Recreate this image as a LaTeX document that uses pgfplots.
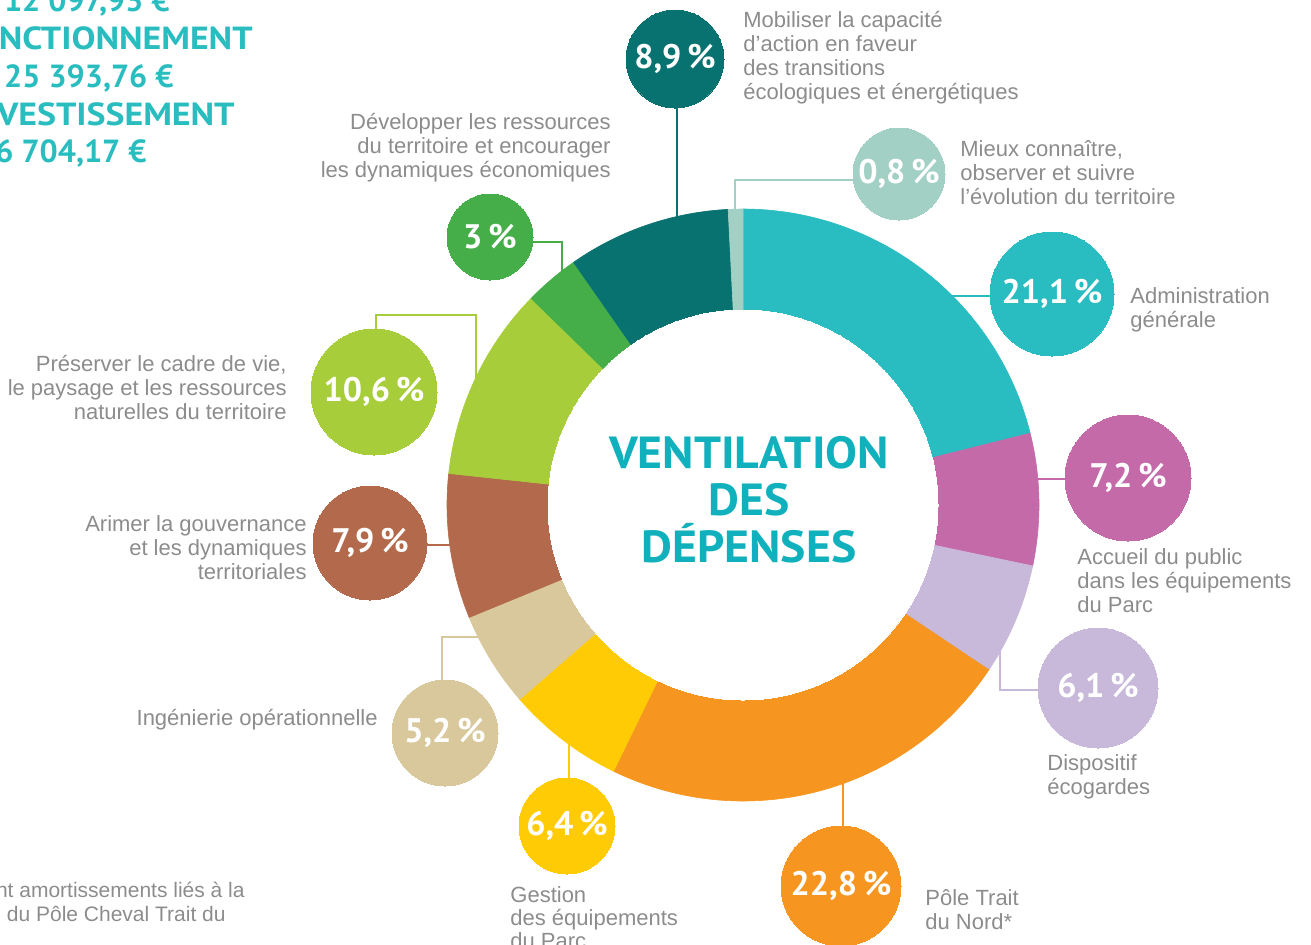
\documentclass[border=0pt]{standalone}
\usepackage{pgfplots}
\pgfplotsset{compat=1.18}
\usepackage{fontspec}
\setmainfont{Liberation Sans}
\newfontfamily\dinfont{PT Sans}
\newfontfamily\dinwide[FakeStretch=1.12]{PT Sans}
\newfontfamily\dintitle[FakeStretch=1.06]{PT Sans}

\definecolor{cAdm}{HTML}{29BDC1}
\definecolor{cAcc}{HTML}{C56AA9}
\definecolor{cEco}{HTML}{C8B8DA}
\definecolor{cPole}{HTML}{F6951F}
\definecolor{cGest}{HTML}{FFCB05}
\definecolor{cIng}{HTML}{D9C89B}
\definecolor{cGouv}{HTML}{B3694B}
\definecolor{cPres}{HTML}{A8CD3A}
\definecolor{cDev}{HTML}{45AE49}
\definecolor{cMob}{HTML}{07726F}
\definecolor{cMieux}{HTML}{A3D0C5}
\definecolor{cTitle}{HTML}{10B1BD}
\definecolor{cTop}{HTML}{2ABDBF}
\definecolor{cGray}{HTML}{8C8C8C}

\newcommand{\labfont}{\fontsize{11}{12}\selectfont}
\newcommand{\bubfont}{\dinfont\bfseries\fontsize{17}{17}\selectfont}
\newcommand{\topfont}{\dinwide\bfseries\fontsize{16}{18}\selectfont}
\newcommand{\topnum}{\dinfont\bfseries\fontsize{16}{18}\selectfont}
\newcommand{\pc}{\hspace{0.17em}\%}

% #1 cumulative start (%), #2 cumulative end (%), #3 colour
\newcommand{\sector}[3]{%
  \addplot[fill=#3, draw=#3, line width=0.3pt, domain={90-3.6*#2}:{90-3.6*#1}, samples=90, variable=\t]
    ({743+296*cos(\t)},{505-296*sin(\t)}) -- (axis cs:743,505) -- cycle;}
% #1 x, #2 y, #3 radius (pt), #4 colour
\newcommand{\bubble}[4]{%
  \addplot[only marks, mark=*, mark size=#3pt, color=#4, mark options={line width=0pt}] coordinates {(#1,#2)};}

\begin{document}
\begin{tikzpicture}
\begin{axis}[width=655.5pt, height=472pt, scale only axis,
  xmin=0, xmax=1311, ymin=0, ymax=944, y dir=reverse,
  hide axis, clip=false]

% connector lines
\addplot[cMob, line width=1.4pt] coordinates {(677,60) (677,260)};
\addplot[cMieux, line width=1.4pt] coordinates {(899,180) (735,180) (735,240)};
\addplot[cAdm, line width=1.4pt] coordinates {(1052,296) (940,296)};
\addplot[cAcc, line width=1.4pt] coordinates {(1128,479) (1000,479)};
\addplot[cEco, line width=1.4pt] coordinates {(1098,690) (1000,690) (1000,620)};
\addplot[cPole, line width=1.4pt] coordinates {(843,886) (843,760)};
\addplot[cGest, line width=1.4pt] coordinates {(569,826) (569,700)};
\addplot[cIng, line width=1.4pt] coordinates {(442,733) (442,637) (520,637)};
\addplot[cGouv, line width=1.4pt] coordinates {(370,545) (500,545)};
\addplot[cPres, line width=1.4pt] coordinates {(376,392) (376,315) (476,315) (476,420)};
\addplot[cDev, line width=1.4pt] coordinates {(490,242) (562,242) (562,300)};

% donut: cumulative shares, clockwise from the top
\sector{0}{21.1}{cAdm}
\sector{21.1}{28.3}{cAcc}
\sector{28.3}{34.4}{cEco}
\sector{34.4}{57.2}{cPole}
\sector{57.2}{63.6}{cGest}
\sector{63.6}{68.8}{cIng}
\sector{68.8}{76.7}{cGouv}
\sector{76.7}{87.3}{cPres}
\sector{87.3}{90.3}{cDev}
\sector{90.3}{99.2}{cMob}
\sector{99.2}{100}{cMieux}
\addplot[only marks, mark=*, mark size=97.5pt, white, mark options={line width=0pt}] coordinates {(743,505)};

% bubbles
\bubble{675}{59}{24.5}{cMob}
\bubble{899}{174}{23}{cMieux}
\bubble{1052}{294}{31}{cAdm}
\bubble{1128}{478}{31.5}{cAcc}
\bubble{1098}{688}{30}{cEco}
\bubble{841}{886}{30}{cPole}
\bubble{567}{826}{24}{cGest}
\bubble{445}{733}{26.5}{cIng}
\bubble{370}{543}{28.5}{cGouv}
\bubble{374}{392}{31.5}{cPres}
\bubble{490}{237}{21.5}{cDev}
\end{axis}

% all texts, in the reference's pixel coordinates (y downwards)
\begin{scope}[x=0.5pt, y=-0.5pt, shift={(0pt,472pt)}]
\foreach \x/\y/\t in {675/59/{8,9\pc}, 899/174/{0,8\pc}, 1052/294/{21,1\pc}, 1128/478/{7,2\pc},
  1098/688/{6,1\pc}, 841/886/{22,8\pc}, 567/826/{6,4\pc}, 445/733/{5,2\pc},
  370/543/{7,9\pc}, 374/392/{10,6\pc}, 490/237/{3\pc}}
  \node[font=\bubfont, text=white, inner sep=0pt] at (\x,\y) {\t};

\node[font=\dintitle\bfseries\fontsize{22.5}{23.5}\selectfont, text=cTitle, align=center, anchor=base, inner sep=0pt]
  at (749,562) {VENTILATION\\DES\\DÉPENSES};

\node[font=\labfont, text=cGray, align=left, anchor=base west, inner sep=0pt] at (743,100)
  {Mobiliser la capacité\\d’action en faveur\\des transitions\\écologiques et énergétiques};
\node[font=\labfont, text=cGray, align=left, anchor=base west, inner sep=0pt] at (960,205)
  {Mieux connaître,\\observer et suivre\\l’évolution du territoire};
\node[font=\labfont, text=cGray, align=left, anchor=base west, inner sep=0pt] at (1130,328)
  {Administration\\générale};
\node[font=\labfont, text=cGray, align=left, anchor=base west, inner sep=0pt] at (1077,612)
  {Accueil du public\\dans les équipements\\du Parc};
\node[font=\labfont, text=cGray, align=left, anchor=base west, inner sep=0pt] at (1047,794)
  {Dispositif\\écogardes};
\node[font=\labfont, text=cGray, align=left, anchor=base west, inner sep=0pt] at (925,929)
  {Pôle Trait\\du Nord*};
\node[font=\fontsize{11}{11.3}\selectfont, text=cGray, align=left, anchor=base west, inner sep=0pt] at (510,948)
  {Gestion\\des équipements\\du Parc};
\node[font=\labfont, text=cGray, align=right, anchor=base east, inner sep=0pt] at (378,725)
  {Ingénierie opérationnelle};
\node[font=\labfont, text=cGray, align=right, anchor=base east, inner sep=0pt] at (307,579)
  {Arimer la gouvernance\\et les dynamiques\\territoriales};
\node[font=\labfont, text=cGray, align=right, anchor=base east, inner sep=0pt] at (287,420)
  {Préserver le cadre de vie,\\le paysage et les ressources\\naturelles du territoire};
\node[font=\labfont, text=cGray, align=right, anchor=base east, inner sep=0pt] at (611,178)
  {Développer les ressources\\du territoire et encourager\\les dynamiques économiques};
\node[font=\fontsize{10.5}{12}\selectfont, text=cGray, anchor=base east, inner sep=0pt] at (245,897)
  {nt amortissements liés à la};
\node[font=\fontsize{10.5}{12}\selectfont, text=cGray, anchor=base east, inner sep=0pt] at (226,921)
  {e du Pôle Cheval Trait du};

\node[font=\topnum, text=cTop, anchor=base east, inner sep=0pt] at (170,12) {12 097,93 €};
\node[font=\topfont, text=cTop, anchor=base east, inner sep=0pt] at (253,50) {FONCTIONNEMENT};
\node[font=\topnum, text=cTop, anchor=base east, inner sep=0pt] at (174,88) {25 393,76 €};
\node[font=\topfont, text=cTop, anchor=base east, inner sep=0pt] at (235,126) {INVESTISSEMENT};
\node[font=\topnum, text=cTop, anchor=base east, inner sep=0pt] at (147,163) {6 704,17 €};
\end{scope}

\pgfresetboundingbox
\path[use as bounding box] (current axis.south west) rectangle (current axis.north east);
\end{tikzpicture}
\end{document}
